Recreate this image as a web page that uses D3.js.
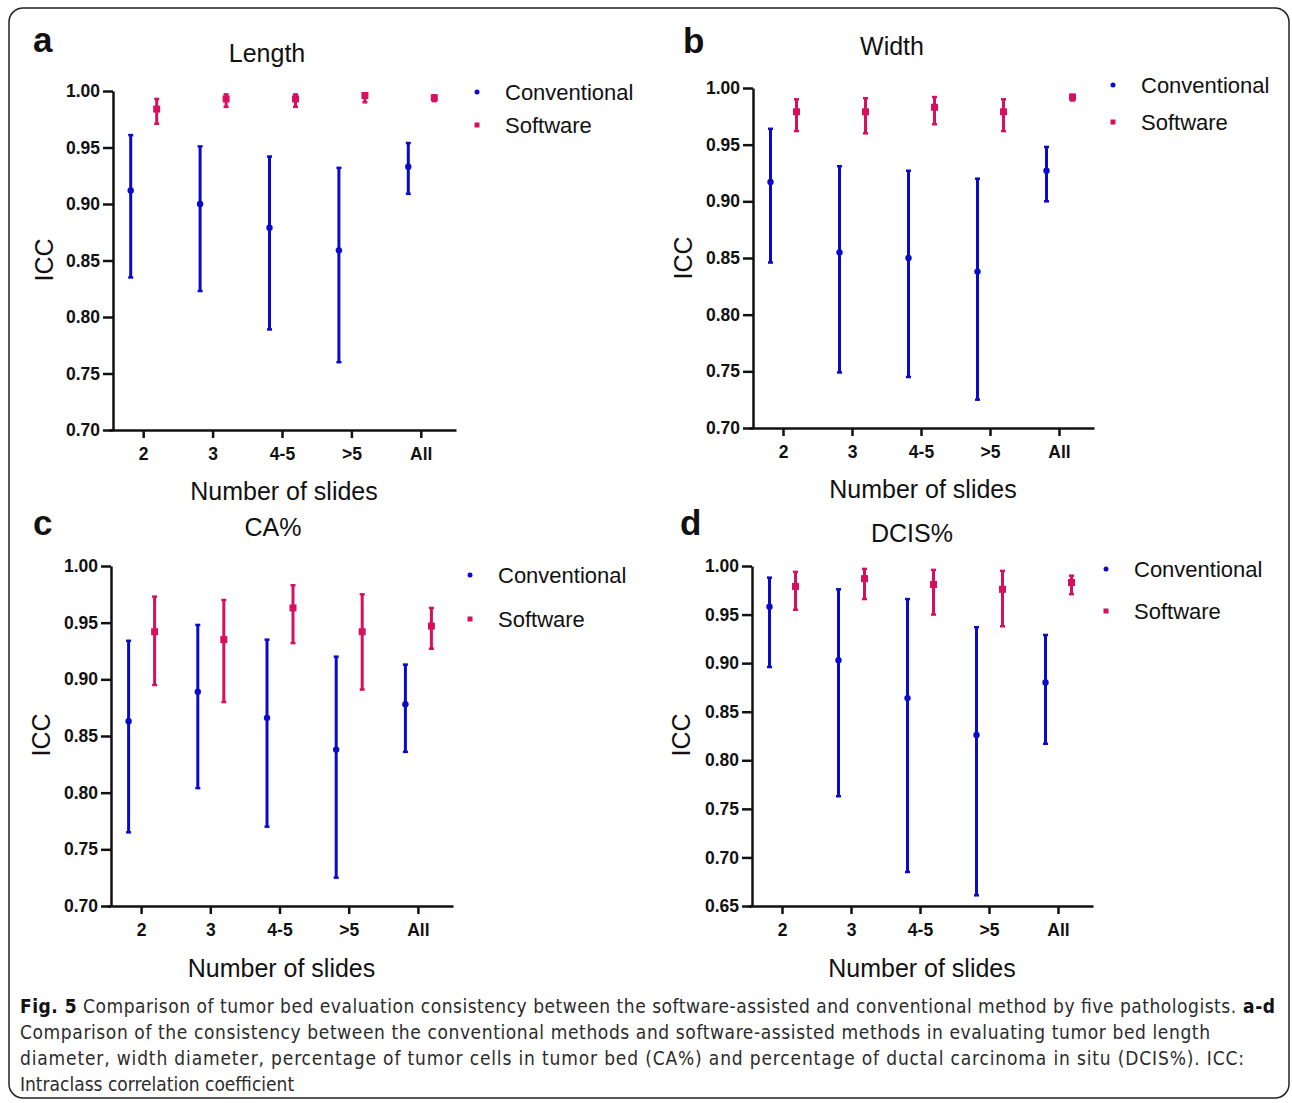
<!DOCTYPE html>
<html>
<head>
<meta charset="utf-8">
<script src="https://cdn.jsdelivr.net/npm/d3@7"></script>
<style>
  body { margin: 0; background: #fff; }
  svg { display: block; }
  .tick text { font-family: "Liberation Sans", Arial, sans-serif; font-weight: bold; font-size: 17.5px; fill: #111; }
</style>
</head>
<body>
<div id="chart"></div>
<script>
// categories / series
const categories = ["2", "3", "4-5", ">5", "All"];
const seriesNames = ["Conventional", "Software"];

// each entry: [ICC, lower 95% CI, upper 95% CI]
const lengthConventional = [[0.912, 0.835, 0.961], [0.900, 0.823, 0.951], [0.879, 0.789, 0.942], [0.859, 0.760, 0.932], [0.933, 0.909, 0.954]];
const lengthSoftware     = [[0.984, 0.971, 0.993], [0.993, 0.986, 0.997], [0.993, 0.986, 0.997], [0.996, 0.990, 0.998], [0.994, 0.991, 0.996]];
const widthConventional  = [[0.917, 0.846, 0.964], [0.855, 0.749, 0.931], [0.850, 0.745, 0.927], [0.838, 0.725, 0.920], [0.927, 0.900, 0.948]];
const widthSoftware      = [[0.979, 0.962, 0.990], [0.979, 0.960, 0.991], [0.983, 0.968, 0.992], [0.979, 0.962, 0.990], [0.992, 0.989, 0.994]];
const caConventional     = [[0.863, 0.765, 0.934], [0.889, 0.804, 0.948], [0.866, 0.770, 0.935], [0.838, 0.725, 0.920], [0.878, 0.836, 0.913]];
const caSoftware         = [[0.942, 0.895, 0.973], [0.935, 0.880, 0.970], [0.963, 0.932, 0.983], [0.942, 0.891, 0.975], [0.947, 0.927, 0.963]];
const dcisConventional   = [[0.958, 0.896, 0.988], [0.903, 0.763, 0.976], [0.864, 0.685, 0.966], [0.826, 0.661, 0.937], [0.880, 0.817, 0.929]];
const dcisSoftware       = [[0.979, 0.955, 0.994], [0.987, 0.966, 0.997], [0.981, 0.950, 0.996], [0.976, 0.938, 0.995], [0.983, 0.971, 0.990]];

const yDomainABC = [0.70, 1.00];
const yDomainD = [0.65, 1.00];

const colors = { "Conventional": "#0a0acc", "Software": "#d6105f" };
const font = '"Liberation Sans", Arial, sans-serif';

const W = 1292, H = 1103;
const svg = d3.select("#chart").append("svg")
    .attr("width", W)
    .attr("height", H);

// outer frame
svg.append("rect")
    .attr("x", 9).attr("y", 8)
    .attr("width", 1280).attr("height", 1090)
    .attr("rx", 14)
    .attr("fill", "none")
    .attr("stroke", "#222")
    .attr("stroke-width", 1.5);

const panels = [
  { letter: "a", title: "Length", conv: lengthConventional, soft: lengthSoftware, yDom: yDomainABC,
    left: 113, right: 455, top: 91, bottom: 430,
    letterPos: [33, 52], titlePos: [267, 62], iccPos: [53, 260], xlabY: 500, leg: [477, 92, 33] },
  { letter: "b", title: "Width", conv: widthConventional, soft: widthSoftware, yDom: yDomainABC,
    left: 753, right: 1093, top: 88, bottom: 428,
    letterPos: [683, 53], titlePos: [892, 55], iccPos: [692, 258], xlabY: 498, leg: [1113, 85, 37] },
  { letter: "c", title: "CA%", conv: caConventional, soft: caSoftware, yDom: yDomainABC,
    left: 111, right: 452, top: 566, bottom: 906,
    letterPos: [33, 535], titlePos: [273, 536], iccPos: [50, 735], xlabY: 977, leg: [470, 575, 44] },
  { letter: "d", title: "DCIS%", conv: dcisConventional, soft: dcisSoftware, yDom: yDomainD,
    left: 752, right: 1092, top: 566, bottom: 906,
    letterPos: [680, 535], titlePos: [912, 542], iccPos: [690, 735], xlabY: 977, leg: [1106, 569, 42] }
];

panels.forEach(function(p) {
  const g = svg.append("g");

  const y = d3.scaleLinear().domain(p.yDom).range([p.bottom, p.top]);
  const x = d3.scaleBand().domain(categories).range([p.left - 4, p.right + 1]);
  const xSub = d3.scalePoint().domain(seriesNames).range([-13, 13]);

  const yTicks = d3.range(Math.round(p.yDom[0] * 100), 101, 5).map(function(v) { return v / 100; });

  // y axis
  const yAxis = g.append("g")
      .attr("transform", "translate(" + p.left + ",0)")
      .call(d3.axisLeft(y).tickValues(yTicks).tickFormat(d3.format(".2f")).tickSize(10).tickPadding(3).tickSizeOuter(0));
  yAxis.select(".domain").attr("stroke", "#111").attr("stroke-width", 2.5);
  yAxis.selectAll(".tick line").attr("stroke", "#111").attr("stroke-width", 2.5);

  // x axis
  const xAxis = g.append("g")
      .attr("transform", "translate(0," + p.bottom + ")")
      .call(d3.axisBottom(x).tickSize(8).tickPadding(10).tickSizeOuter(0));
  xAxis.select(".domain").attr("stroke", "#111").attr("stroke-width", 2.5);
  xAxis.selectAll(".tick line").attr("stroke", "#111").attr("stroke-width", 2.5);

  // error bars + markers
  [["Conventional", p.conv], ["Software", p.soft]].forEach(function(s) {
    const name = s[0];
    const pts = s[1].map(function(d, i) {
      return { cat: categories[i], m: d[0], lo: d[1], hi: d[2] };
    });
    const col = colors[name];
    const grp = g.append("g").attr("class", "series-" + name);
    const cx = function(d) { return x(d.cat) + x.bandwidth() / 2 + xSub(name); };

    grp.selectAll("line.bar").data(pts).enter().append("line")
        .attr("class", "bar")
        .attr("x1", cx).attr("x2", cx)
        .attr("y1", function(d) { return y(d.lo); })
        .attr("y2", function(d) { return y(d.hi); })
        .attr("stroke", col).attr("stroke-width", 3);

    ["lo", "hi"].forEach(function(k) {
      grp.selectAll("line.cap-" + k).data(pts).enter().append("line")
          .attr("class", "cap-" + k)
          .attr("x1", function(d) { return cx(d) - 2.5; })
          .attr("x2", function(d) { return cx(d) + 2.5; })
          .attr("y1", function(d) { return y(d[k]); })
          .attr("y2", function(d) { return y(d[k]); })
          .attr("stroke", col).attr("stroke-width", 2.5);
    });

    if (name === "Conventional") {
      grp.selectAll("circle").data(pts).enter().append("circle")
          .attr("cx", cx)
          .attr("cy", function(d) { return y(d.m); })
          .attr("r", 3.2)
          .attr("fill", col);
    } else {
      grp.selectAll("rect").data(pts).enter().append("rect")
          .attr("x", function(d) { return cx(d) - 3.5; })
          .attr("y", function(d) { return y(d.m) - 3.5; })
          .attr("width", 7).attr("height", 7)
          .attr("fill", col);
    }
  });

  // panel letter
  g.append("text")
      .attr("x", p.letterPos[0]).attr("y", p.letterPos[1])
      .attr("font-family", font).attr("font-weight", "bold").attr("font-size", 35)
      .attr("fill", "#111")
      .text(p.letter);

  // title
  g.append("text")
      .attr("x", p.titlePos[0]).attr("y", p.titlePos[1])
      .attr("text-anchor", "middle")
      .attr("font-family", font).attr("font-size", 25)
      .attr("fill", "#111")
      .text(p.title);

  // y label
  g.append("text")
      .attr("transform", "translate(" + p.iccPos[0] + "," + p.iccPos[1] + ") rotate(-90)")
      .attr("text-anchor", "middle")
      .attr("font-family", font).attr("font-size", 25)
      .attr("fill", "#111")
      .text("ICC");

  // x label
  g.append("text")
      .attr("x", (p.left + p.right) / 2).attr("y", p.xlabY)
      .attr("text-anchor", "middle")
      .attr("font-family", font).attr("font-size", 25)
      .attr("fill", "#111")
      .text("Number of slides");

  // legend
  const leg = g.append("g").attr("transform", "translate(" + p.leg[0] + "," + p.leg[1] + ")");
  seriesNames.forEach(function(name, i) {
    const row = leg.append("g").attr("transform", "translate(0," + (i * p.leg[2]) + ")");
    if (name === "Conventional") {
      row.append("circle").attr("r", 2.5).attr("fill", colors[name]);
    } else {
      row.append("rect").attr("x", -2.5).attr("y", -2.5).attr("width", 5).attr("height", 5).attr("fill", colors[name]);
    }
    row.append("text")
        .attr("x", 28).attr("y", 7.5)
        .attr("font-family", font).attr("font-size", 22)
        .attr("fill", "#111")
        .text(name);
  });
});

// caption
const capFont = '"Liberation Sans Narrow", "DejaVu Sans Condensed", "Open Sans", sans-serif';
const captionLines = [
  { bold: "Fig. 5", text: " Comparison of tumor bed evaluation consistency between the software-assisted and conventional method by five pathologists.", tail: "a-d", width: 1255 },
  { text: "Comparison of the consistency between the conventional methods and software-assisted methods in evaluating tumor bed length", width: 1190 },
  { text: "diameter, width diameter, percentage of tumor cells in tumor bed (CA%) and percentage of ductal carcinoma in situ (DCIS%). ICC:", width: 1224 },
  { text: "Intraclass correlation coefficient", width: null }
];
const cap = svg.append("g").attr("font-family", capFont).attr("font-size", 19).attr("fill", "#2b2b2b");
captionLines.forEach(function(l, i) {
  const t = cap.append("text").attr("x", 20).attr("y", 1013 + i * 26);
  if (l.width) t.attr("textLength", l.width).attr("lengthAdjust", "spacing");
  if (l.bold) t.append("tspan").attr("font-weight", "bold").attr("fill", "#111").text(l.bold);
  t.append("tspan").text(l.text);
  if (l.tail) t.append("tspan").attr("font-weight", "bold").attr("fill", "#111").text(" " + l.tail);
});
</script>
</body>
</html>
